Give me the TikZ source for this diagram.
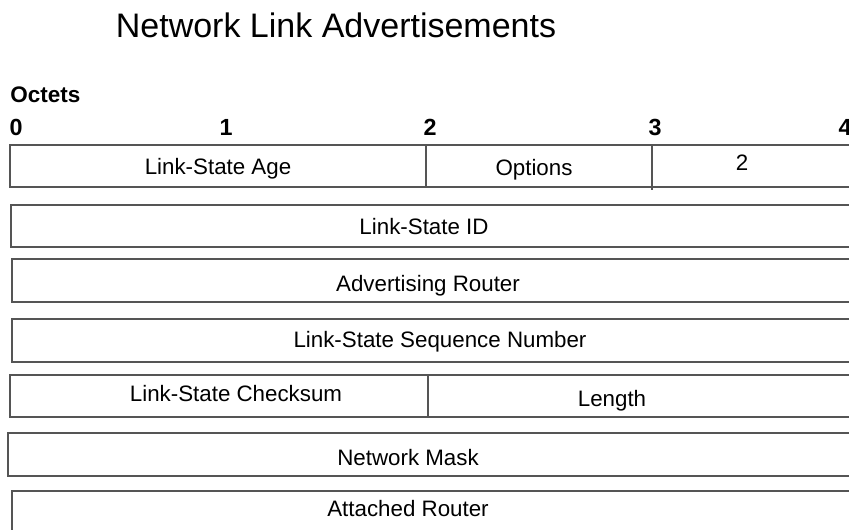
\documentclass[tikz,border=0pt]{standalone}
\usepackage{fontspec}
\setmainfont{Liberation Sans}
\usepackage{tikz}
\usetikzlibrary{positioning}
\definecolor{FrameGray}{RGB}{85, 85, 85}

\begin{document}
\begin{tikzpicture}[x=0.6pt, y=-0.6pt,
    field/.style={anchor=base, inner sep=0pt, font=\fontsize{13.4}{16}\selectfont},
    octet/.style={anchor=base, inner sep=0pt, font=\bfseries\fontsize{14}{16}\selectfont},
    row/.style={draw=FrameGray, line width=0.7pt}]
    \useasboundingbox (0,0) rectangle (849,529);
    \clip (0,0) rectangle (849,529);

    % Title
    \node[anchor=base, inner sep=0pt, font=\fontsize{20.4}{24}\selectfont] (title) at (336,37) {Network Link Advertisements};

    % Octet scale
    \node[anchor=base west, inner sep=0pt, font=\bfseries\fontsize{13.5}{16}\selectfont] (octets) at (10,102) {Octets};
    \foreach \x/\n in {16/0, 226/1, 430/2, 655/3, 845/4}
        \node[octet] (oct\n) at (\x,135) {\n};

    % Rows
    \draw[row] (10,145) rectangle (870,187);
    \draw[row] (426,145) -- (426,187);
    \draw[row] (652,145) -- (652,190);
    \draw[row] (11,205) rectangle (870,247);
    \draw[row] (12,259) rectangle (870,302);
    \draw[row] (12,319) rectangle (870,362);
    \draw[row] (10,375) rectangle (870,417);
    \draw[row] (428,375) -- (428,417);
    \draw[row] (8,433) rectangle (870,476);
    \draw[row] (12,491) rectangle (870,545);

    % Fields
    \node[field] (age) at (218,174) {Link-State Age};
    \node[field] (options) at (534,175) {Options};
    \node[field] (lstype) at (742,170) {2};
    \node[field] (lsid) at (424,234) {Link-State ID};
    \node[field] (advrtr) at (428,291) {Advertising Router};
    \node[field] (seqnum) at (440,347) {Link-State Sequence Number};
    \node[field] (cksum) at (236,401) {Link-State Checksum};
    \node[field] (length) at (612,406) {Length};
    \node[field] (netmask) at (408,465) {Network Mask};
    \node[field] (attrtr) at (408,516) {Attached Router};
  \end{tikzpicture}
\end{document}
